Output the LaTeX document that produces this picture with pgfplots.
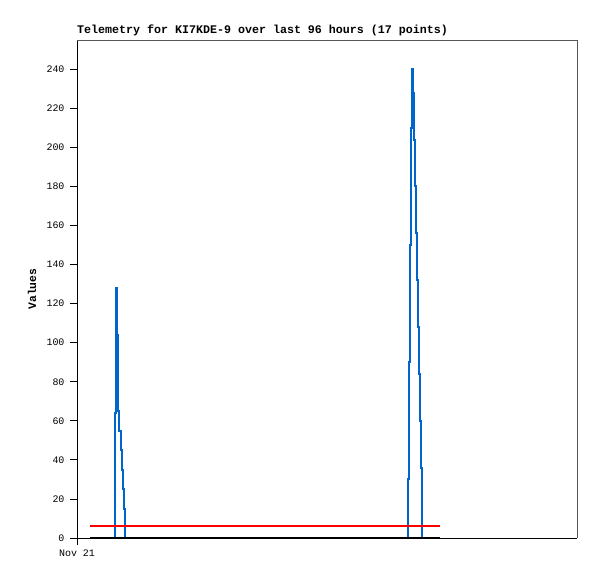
\documentclass[border=0pt]{standalone}
\usepackage{pgfplots}
\pgfplotsset{compat=1.18}
\usepackage{fontspec}
\setmainfont{Liberation Mono}
\definecolor{telblue}{HTML}{0066CC}
\definecolor{frame}{HTML}{555555}

\begin{document}
\begin{tikzpicture}
\useasboundingbox (-77bp,-41bp) rectangle (520bp,538bp);
\begin{axis}[
    scale only axis,
    width=500bp, height=498bp,
    xmin=0, xmax=500,
    ymin=0, ymax=255,
    axis lines*=left,
    axis line style={black, line width=0.8pt},
    xtick={0},
    xticklabels={Nov 21},
    ytick={0,20,...,240},
    tick align=outside,
    major tick length=7bp,
    tick style={black, line width=0.8pt},
    /pgf/number format/assume math mode=true,
    ticklabel style={font=\fontsize{10}{12}\selectfont},
    yticklabel style={xshift=-2bp},
    xticklabel style={yshift=-1bp},
    title={Telemetry for KI7KDE-9 over last 96 hours (17 points)},
    title style={at={(axis description cs:0,1)}, anchor=south west,
        font=\fontsize{11.7}{13}\selectfont\bfseries, inner sep=0pt, yshift=-2bp},
    ylabel={Values},
    every axis y label/.style={at={(axis description cs:-0.09,0.5)},
        rotate=90, anchor=center, font=\fontsize{11.4}{13}\selectfont\bfseries},
    clip=false,
]
\draw[frame, line width=0.8pt] (rel axis cs:0,1) -- (rel axis cs:1,1) -- (rel axis cs:1,0);
\addplot[telblue, line width=2pt, const plot, line join=miter] coordinates {
  (13,0) (38.3,64) (38.8,128) (39.6,104) (40.6,75) (41,65)
  (42.3,55) (43.7,45) (44.7,35) (45.7,25) (47,15) (48,0)
  (330.7,30) (331.7,90) (332.7,150) (333.7,210) (334.7,240)
  (335.7,228) (336.7,204) (337.7,180) (338.7,156) (339.7,132) (340.7,108)
  (341.7,84) (342.7,60) (343.7,36) (344.7,12) (345.2,0) (363,0)
};
\addplot[red, line width=2pt] coordinates {(13,6) (363,6)};
\addplot[black, line width=2pt] coordinates {(13,0) (363,0)};
\end{axis}
\end{tikzpicture}
\end{document}
